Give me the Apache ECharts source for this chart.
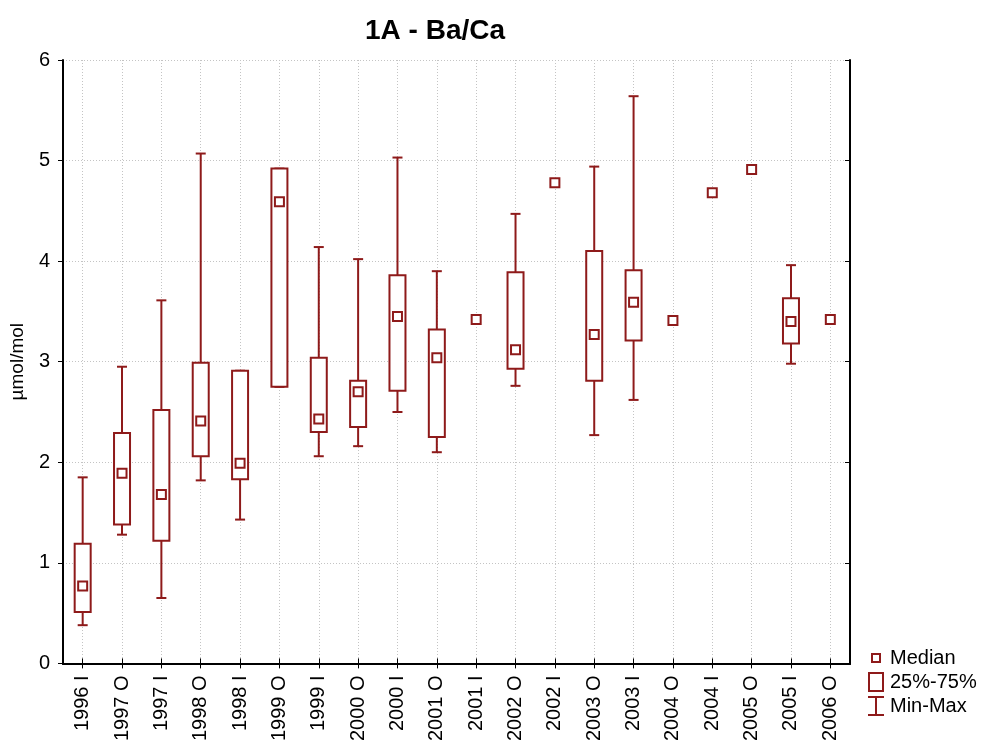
<!DOCTYPE html>
<html><head><meta charset="utf-8">
<script src="https://cdn.jsdelivr.net/npm/echarts@6/dist/echarts.min.js"></script>
<style>html,body{margin:0;padding:0;background:#fff}#c{width:985px;height:744px}</style>
</head><body><div id="c"></div>
<script>
const categories = ['1996 I','1997 O','1997 I','1998 O','1998 I','1999 O','1999 I','2000 O','2000 I','2001 O','2001 I','2002 O','2002 I','2003 O','2003 I','2004 O','2004 I','2005 O','2005 I','2006 O'];
const minValues    = [0.38,1.28,0.65,1.82,1.43,2.75,2.06,2.16,2.50,2.10,null,2.76,null,2.27,2.62,null,null,null,2.98,null];
const q1Values     = [0.51,1.38,1.22,2.06,1.83,2.75,2.30,2.35,2.71,2.25,null,2.93,null,2.81,3.21,null,null,null,3.18,null];
const medianValues = [0.77,1.89,1.68,2.41,1.99,4.59,2.43,2.70,3.45,3.04,3.42,3.12,4.78,3.27,3.59,3.41,4.68,4.91,3.40,3.42];
const q3Values     = [1.19,2.29,2.52,2.99,2.91,4.92,3.04,2.81,3.86,3.32,null,3.89,null,4.10,3.91,null,null,null,3.63,null];
const maxValues    = [1.85,2.95,3.61,5.07,2.91,4.92,4.14,4.02,5.03,3.90,null,4.47,null,4.94,5.64,null,null,null,3.96,null];
const yMin = 0, yMax = 6, yStep = 1;
const seriesNames = ['Median', '25%-75%', 'Min-Max'];

const RED = '#8E1A1A';
const FONT = 'Liberation Sans, Arial, sans-serif';

const boxData = [];
categories.forEach((c, i) => {
  if (q1Values[i] != null) boxData.push([i, minValues[i], q1Values[i], q3Values[i], maxValues[i]]);
});

function renderWhisker(params, api) {
  const i = api.value(0);
  const pMin = api.coord([i, api.value(1)]);
  const pQ1 = api.coord([i, api.value(2)]);
  const pQ3 = api.coord([i, api.value(3)]);
  const pMax = api.coord([i, api.value(4)]);
  const x = pMin[0], cw = 5;
  const st = { stroke: RED, lineWidth: 2, fill: null };
  const ch = [];
  ch.push({ type: 'line', shape: { x1: x, y1: pMin[1], x2: x, y2: pQ1[1] }, style: st });
  ch.push({ type: 'line', shape: { x1: x, y1: pQ3[1], x2: x, y2: pMax[1] }, style: st });
  ch.push({ type: 'line', shape: { x1: x - cw, y1: pMin[1], x2: x + cw, y2: pMin[1] }, style: st });
  ch.push({ type: 'line', shape: { x1: x - cw, y1: pMax[1], x2: x + cw, y2: pMax[1] }, style: st });
  return { type: 'group', children: ch };
}
function renderBox(params, api) {
  const i = api.value(0);
  const pQ1 = api.coord([i, api.value(2)]);
  const pQ3 = api.coord([i, api.value(3)]);
  const w = 16;
  return { type: 'rect', shape: { x: pQ1[0] - w / 2, y: pQ3[1], width: w, height: pQ1[1] - pQ3[1] },
    style: { fill: '#fff', stroke: RED, lineWidth: 2 } };
}

const iconMedian = 'path://M0,0M18,20M4,5h10v10h-10zM6,7v6h6v-6z';
const iconBox = 'path://M0,0M18,20M1,0h16v20h-16zM3,2v16h12v-16z';
const iconWhisker = 'path://M0,0M18,20M1,0h16v2h-7v16h7v2h-16v-2h7v-16h-7z';

const chart = echarts.init(document.getElementById('c'));
chart.setOption({
  animation: false,
  backgroundColor: '#fff',
  textStyle: { fontFamily: FONT },
  title: { text: '1A - Ba/Ca', left: 360, top: 12,
    textStyle: { fontSize: 28, fontWeight: 'bold', color: '#000', fontFamily: FONT } },
  legend: {
    orient: 'vertical', left: 862, top: 643, itemWidth: 18, itemHeight: 20, itemGap: 4,
    textStyle: { fontSize: 20, color: '#000', fontFamily: FONT },
    data: [
      { name: seriesNames[0], icon: iconMedian, itemStyle: { color: RED, borderWidth: 0 } },
      { name: seriesNames[1], icon: iconBox, itemStyle: { color: RED, borderWidth: 0 } },
      { name: seriesNames[2], icon: iconWhisker, itemStyle: { color: RED, borderWidth: 0 } }
    ]
  },
  grid: { left: 63, right: 135, top: 60, bottom: 80, containLabel: false },
  xAxis: [
    { type: 'category', data: categories, position: 'bottom', boundaryGap: true,
      axisLine: { show: true, lineStyle: { color: '#000', width: 2 } },
      axisTick: { show: true, inside: true, alignWithLabel: true, length: 5, lineStyle: { color: '#000' } },
      axisLabel: { rotate: 90, interval: 0, fontSize: 20, color: '#000', margin: 12, fontFamily: FONT },
      splitLine: { show: true, alignWithLabel: true, interval: 0, lineStyle: { color: '#c4c4c4', type: [1, 2], width: 1 } } },
    { type: 'category', data: categories, position: 'top', boundaryGap: true,
      axisLine: { show: true, lineStyle: { color: '#000', width: 2 } },
      axisTick: { show: true, inside: true, alignWithLabel: true, length: 5, interval: 0, lineStyle: { color: '#000' } },
      axisLabel: { show: false }, splitLine: { show: false } }
  ],
  yAxis: [
    { type: 'value', min: yMin, max: yMax, interval: yStep, position: 'left',
      name: 'µmol/mol', nameLocation: 'middle', nameGap: 36,
      nameTextStyle: { fontSize: 19, color: '#000', fontFamily: FONT },
      axisLine: { show: true, lineStyle: { color: '#000', width: 2 } },
      axisTick: { show: true, inside: false, length: 5, lineStyle: { color: '#000' } },
      axisLabel: { fontSize: 20, color: '#000', margin: 13, fontFamily: FONT },
      splitLine: { show: true, lineStyle: { color: '#c4c4c4', type: [1, 2], width: 1 } } },
    { type: 'value', min: yMin, max: yMax, interval: yStep, position: 'right',
      axisLine: { show: true, lineStyle: { color: '#000', width: 2 } },
      axisTick: { show: true, inside: true, length: 5, lineStyle: { color: '#000' } },
      axisLabel: { show: false }, splitLine: { show: false } }
  ],
  series: [
    { name: seriesNames[2], type: 'custom', renderItem: renderWhisker, data: boxData, z: 2,
      encode: { x: 0, y: [1, 2, 3, 4] }, itemStyle: { color: RED } },
    { name: seriesNames[1], type: 'custom', renderItem: renderBox, data: boxData, z: 3,
      encode: { x: 0, y: [1, 2, 3, 4] }, itemStyle: { color: RED } },
    { name: seriesNames[0], type: 'scatter', data: medianValues, z: 4,
      symbol: 'rect', symbolSize: 9,
      itemStyle: { color: '#fff', borderColor: RED, borderWidth: 2, opacity: 1 } }
  ]
});
</script></body></html>
